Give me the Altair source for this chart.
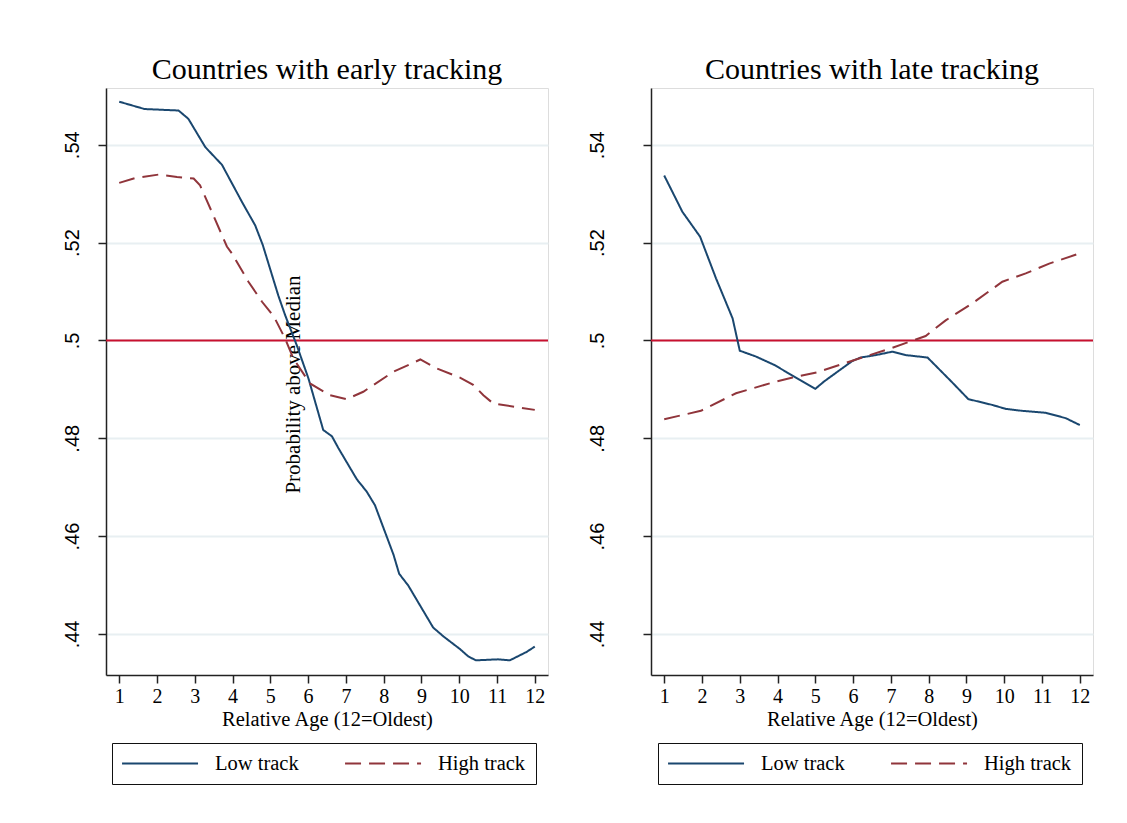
import altair as alt
import pandas as pd

# ---- data ----
early_low_x = [1.0, 1.67, 2.57, 2.83, 3.28, 3.72, 4.25, 4.6, 4.8, 5.21, 5.39, 5.70, 6.01, 6.40, 6.63,
               6.80, 7.29, 7.55, 7.77, 8.26, 8.41, 8.65, 9.31, 9.58, 10.02, 10.24, 10.44, 11.03, 11.34,
               11.78, 12.0]
early_low_y = [0.5488, 0.5473, 0.5470, 0.5453, 0.5395, 0.5359, 0.5283, 0.5235, 0.5195, 0.5092, 0.5052,
               0.4990, 0.4922, 0.4817, 0.4804, 0.4780, 0.4716, 0.4691, 0.4663, 0.4562, 0.4523, 0.4499,
               0.4413, 0.4395, 0.4369, 0.4354, 0.4346, 0.4348, 0.4346, 0.4363, 0.4374]

early_high_x = [1.0, 1.42, 2.04, 2.53, 2.97, 3.14, 3.45, 3.85, 3.98, 4.42, 4.78, 5.10, 5.39, 5.61, 6.05,
                6.58, 7.02, 7.46, 8.26, 8.97, 9.40, 10.02, 10.37, 10.64, 10.90, 12.0]
early_high_y = [0.5322, 0.5332, 0.5339, 0.5334, 0.5331, 0.5317, 0.5263, 0.5192, 0.5178, 0.5120, 0.5079,
                0.5048, 0.5004, 0.4963, 0.4912, 0.4888, 0.4880, 0.4895, 0.4936, 0.4961, 0.4943, 0.4924,
                0.4909, 0.4888, 0.4871, 0.4858]

late_low_x = [1.0, 1.26, 1.48, 1.95, 2.37, 2.81, 3.0, 3.43, 3.91, 4.22, 5.0, 5.23, 5.98, 6.2, 6.6, 7.04,
              7.39, 7.97, 8.6, 9.05, 9.69, 10.04, 10.48, 11.1, 11.63, 12.0]
late_low_y = [0.5337, 0.5297, 0.5263, 0.5212, 0.5127, 0.5045, 0.4979, 0.4967, 0.4950, 0.4936, 0.4901,
              0.4916, 0.4958, 0.4965, 0.4970, 0.4977, 0.4970, 0.4965, 0.4916, 0.4880, 0.4868, 0.4860,
              0.4856, 0.4852, 0.4841, 0.4827]

late_high_x = [1.0, 1.97, 2.9, 3.87, 4.4, 5.06, 6.16, 7.04, 7.92, 8.45, 9.16, 9.95, 10.57, 11.19, 12.0]
late_high_y = [0.4839, 0.4856, 0.4892, 0.4914, 0.4924, 0.4935, 0.4963, 0.4985, 0.5009, 0.5041, 0.5076,
               0.5120, 0.5137, 0.5157, 0.5178]

tracks = ["Low track", "High track"]
x_ticks = list(range(1, 13))
y_ticks = [0.44, 0.46, 0.48, 0.50, 0.52, 0.54]
reference_level = [0.5]

SERIF = "Liberation Serif"
SANS = "Liberation Sans"
NAVY = "#1a476f"
MAROON = "#90353b"
RED = "#c8102e"


def panel(title, lx, ly, hx, hy, ytitle, label_pad, legend_x):
    df = pd.concat([
        pd.DataFrame({"x": lx, "y": ly, "track": tracks[0]}),
        pd.DataFrame({"x": hx, "y": hy, "track": tracks[1]}),
    ])
    ref = pd.DataFrame({"ref": reference_level})

    yaxis_kwargs = dict(
        values=y_ticks,
        labelExpr="substring(format(datum.value, '.2~f'), 1)",
        labelAngle=-90, labelAlign="center", labelBaseline="bottom",
        labelFont=SANS, labelFontSize=20, labelColor="black", labelPadding=label_pad,
        tickSize=8, tickColor="#222", tickWidth=1.5,
        domainColor="#222", domainWidth=1.5,
        grid=True, gridColor="#e8eff2", gridWidth=2,
    )
    if ytitle:
        yaxis_kwargs.update(title=ytitle, titleFont=SERIF, titleFontSize=21, titleFontWeight="normal",
                            titleColor="black", titleAngle=-90, titleX=187, titleY=296,
                            titleAlign="center", titleBaseline="middle")
    else:
        yaxis_kwargs.update(title=None)
    yaxis = alt.Axis(**yaxis_kwargs)
    yscale = alt.Scale(domain=[0.4316, 0.5516], nice=False, zero=False)

    xaxis = alt.Axis(values=x_ticks, labelAngle=0, labelFont=SERIF, labelFontSize=20, labelColor="black",
                     labelPadding=3, tickSize=8, tickColor="#222", tickWidth=1.5,
                     domainColor="#222", domainWidth=1.5, grid=False,
                     title="Relative Age (12=Oldest)", titleFont=SERIF, titleFontSize=20.5,
                     titleFontWeight="normal", titleColor="black", titlePadding=3)
    xscale = alt.Scale(domain=[0.65, 12.35], nice=False, zero=False)

    rule = alt.Chart(ref).mark_rule(color=RED, strokeWidth=2).encode(
        y=alt.Y("ref:Q", scale=yscale, axis=yaxis)
    )
    legend = alt.Legend(title=None, orient="none", legendX=legend_x, legendY=655, direction="horizontal",
                        symbolType="M-1.1,0H6.9", symbolSize=361, symbolStrokeWidth=2,
                        labelFont=SERIF, labelFontSize=20.5, labelColor="black", labelOffset=72,
                        columnPadding=42, padding=10, strokeColor="#111", fillColor="white")
    lines = alt.Chart(df).mark_line(strokeWidth=2).encode(
        x=alt.X("x:Q", scale=xscale, axis=xaxis),
        y=alt.Y("y:Q", scale=yscale, axis=yaxis),
        color=alt.Color("track:N", scale=alt.Scale(domain=tracks, range=[NAVY, MAROON]), legend=legend),
        strokeDash=alt.StrokeDash("track:N", scale=alt.Scale(domain=tracks, range=[[1, 0], [16, 8]]),
                                  legend=legend),
    )
    return alt.layer(rule, lines).properties(
        width=442, height=587,
        title=alt.TitleParams(title, font=SERIF, fontSize=30, fontWeight="normal", color="black",
                              anchor="middle", offset=3),
    )


left = panel("Countries with early tracking", early_low_x, early_low_y, early_high_x, early_high_y,
             "Probability above Median", 16, 6)
right = panel("Countries with late tracking", late_low_x, late_low_y, late_high_x, late_high_y,
              None, 36, 7)

chart = alt.hconcat(left, right, spacing=103, bounds="flush").resolve_legend(
    color="independent", strokeDash="independent"
).properties(
    padding={"left": 53, "top": 46, "right": 20, "bottom": 20}
).configure_view(stroke=None).configure(background="white")

chart.save("out.html", embed_options={"renderer": "svg", "actions": False})
